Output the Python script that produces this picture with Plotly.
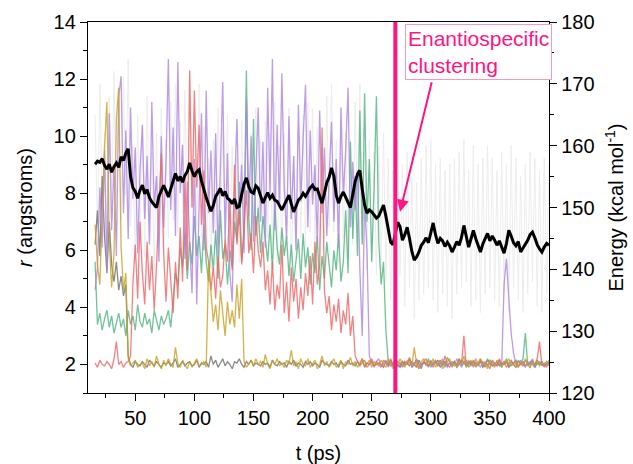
import plotly.graph_objects as go

# time base (ps), sampled every 2 ps
t = list(range(16, 401, 2))

# running-average energy (kcal/mol)
energy_avg = [
    157.0, 157.5, 157.3, 157.9, 156.8, 156.2, 157.0, 155.7, 156.6, 157.2,
    156.5, 158.2, 157.6, 158.8, 159.5, 155.0, 153.2, 152.6, 151.5, 152.8,
    153.6, 152.2, 152.9, 151.6, 150.9, 150.4, 150.0, 151.8, 152.6, 153.6,
    152.7, 151.7, 153.0, 154.2, 155.5, 154.3, 155.0, 154.1, 155.2, 155.8,
    157.2, 155.9, 155.0, 155.8, 156.1, 154.3, 152.8, 151.6, 150.5, 149.4,
    150.3, 151.8, 152.4, 153.1, 151.9, 152.6, 151.5, 151.2, 150.6, 151.4,
    150.0, 150.2, 152.1, 153.8, 154.8, 153.4, 152.5, 152.3, 153.5, 153.1,
    151.9, 150.7, 151.6, 152.4, 151.5, 152.0, 151.2, 151.0, 150.3, 149.6,
    150.4, 151.3, 152.0, 150.6, 149.3, 150.2, 151.2, 151.6, 152.3, 151.8,
    152.6, 153.2, 153.6, 152.9, 153.0, 151.9, 150.7, 152.3, 154.0, 154.9,
    156.4, 155.1, 152.0, 150.7, 151.8, 152.5, 151.6, 150.8, 150.0, 152.1,
    154.2, 155.4, 156.0, 153.0, 150.4, 149.1, 149.6, 149.3, 148.8, 148.3,
    148.6, 149.4, 150.4, 148.6, 146.7, 144.4, 144.0, 146.0, 147.6, 146.9,
    144.7, 145.6, 146.8, 145.0, 142.9, 141.5, 142.0, 142.8, 143.9, 144.4,
    145.1, 144.3, 146.2, 147.5, 145.6, 144.2, 145.0, 144.6, 143.7, 144.4,
    143.8, 142.8, 143.6, 144.5, 143.9, 145.2, 147.1, 145.3, 143.6, 144.9,
    146.3, 145.0, 143.9, 142.8, 144.1, 145.1, 145.8, 144.6, 145.4, 144.7,
    143.9, 144.6, 143.5, 142.6, 144.2, 146.3, 145.4, 144.3, 143.8, 144.5,
    142.8, 143.4, 144.1, 144.7, 145.6, 146.0, 145.1, 144.0, 143.3, 142.8,
    143.6, 144.2, 143.9,
]

# raw (unsmoothed) energy (kcal/mol)
energy_raw = [
    165, 146, 170, 150, 162, 143, 168, 149, 172, 145,
    166, 148, 171, 152, 174, 147, 160, 141, 165, 144,
    163, 142, 168, 146, 159, 140, 162, 144, 166, 143,
    161, 145, 167, 148, 170, 146, 164, 149, 169, 147,
    172, 150, 166, 147, 170, 145, 163, 141, 158, 140,
    161, 144, 166, 146, 163, 143, 165, 142, 160, 145,
    158, 141, 164, 147, 168, 145, 162, 144, 166, 146,
    161, 142, 164, 145, 162, 143, 167, 141, 160, 140,
    162, 143, 166, 139, 158, 142, 163, 145, 165, 144,
    167, 146, 166, 144, 163, 142, 160, 145, 168, 147,
    170, 146, 161, 141, 163, 145, 162, 142, 161, 144,
    167, 147, 170, 145, 160, 140, 161, 141, 159, 139,
    160, 140, 162, 138, 158, 135, 156, 137, 161, 139,
    157, 134, 159, 137, 155, 132, 154, 135, 158, 136,
    160, 137, 161, 135, 157, 133, 158, 136, 156, 134,
    157, 132, 158, 136, 159, 137, 161, 138, 156, 134,
    160, 135, 157, 133, 158, 136, 160, 137, 158, 135,
    156, 134, 159, 136, 157, 133, 160, 137, 158, 135,
    155, 133, 157, 136, 159, 138, 158, 134, 156, 133,
    158, 136, 157,
]

# distances r (angstroms)
r_red = [
    2.05, 1.9, 2.15, 2.0, 1.95, 2.1, 2.0, 1.85, 2.2, 2.8,
    2.0, 2.1, 1.9, 2.05, 2.1, 2.3, 4.8, 6.2, 4.3, 7.0,
    5.2, 4.1, 6.3, 4.6, 5.8, 3.9, 5.5, 7.4, 9.4, 5.9,
    4.2, 6.1, 5.0, 3.8, 5.6, 4.3, 6.8, 4.9, 8.6, 5.3,
    12.3, 7.5, 11.6, 8.2, 10.4, 6.9, 8.8, 6.1, 5.6, 4.6,
    5.4, 4.3, 5.8, 4.7, 5.1, 6.4, 5.6, 7.8, 5.3, 9.0,
    6.2, 7.4, 5.5, 6.8, 8.1, 5.9, 6.6, 5.2, 7.2, 6.0,
    5.4, 6.3, 4.6, 5.3, 4.1, 5.6, 3.9, 4.8, 4.3, 6.2,
    3.8, 4.9, 3.5, 5.4, 4.2, 5.0, 3.6, 4.7, 3.9, 5.2,
    4.4, 5.8, 4.1, 6.3, 4.8, 5.5, 10.3, 4.6, 3.8, 4.4,
    3.2, 4.1, 3.5, 4.3, 3.1, 3.9, 3.4, 4.5, 3.0, 3.7,
    2.3, 2.1, 1.95, 2.05, 2.15, 1.9, 2.0, 2.2, 1.95, 2.1,
    2.0, 1.9, 2.15, 2.05, 1.95, 2.2, 2.0, 1.9, 2.1, 2.05,
    1.95, 2.1, 2.0, 2.25, 1.9, 2.05, 2.15, 1.85, 2.0, 2.1,
    2.2, 1.95, 2.05, 1.9, 2.1, 2.0, 2.15, 1.95, 2.3, 2.0,
    1.9, 2.1, 2.05, 1.95, 2.2, 2.0, 3.0, 1.9, 2.1, 2.0,
    2.15, 1.9, 2.05, 2.2, 1.95, 2.1, 2.0, 1.85, 2.15, 2.05,
    1.95, 2.2, 2.0, 2.1, 1.9, 2.05, 2.15, 2.0, 1.9, 2.1,
    2.05, 1.95, 2.15, 2.0, 1.9, 2.1, 2.0, 2.2, 2.8, 1.95,
    2.05, 1.9, 2.1,
]

r_green = [
    5.6, 3.4, 3.8, 3.2, 3.6, 3.9, 3.3, 3.7, 3.1, 3.5,
    3.8, 3.3, 3.6, 3.0, 3.9, 3.4, 3.7, 3.2, 4.1, 3.5,
    3.3, 3.8, 3.4, 3.6, 3.1, 3.9, 3.5, 3.2, 3.7, 3.4,
    3.6, 3.9, 3.3, 4.4, 5.2, 4.8, 6.1, 5.4, 6.6, 5.0,
    6.3, 5.5, 7.2, 5.8, 6.5, 5.2, 6.9, 5.6, 4.9, 6.2,
    5.3, 6.7, 5.0, 7.4, 5.7, 6.2, 4.8, 6.0, 5.4, 7.0,
    6.3, 8.4, 5.6, 6.6, 12.3, 7.1, 6.0, 10.6, 6.5, 7.5,
    5.9, 7.2, 6.4, 5.6, 6.9, 5.3, 7.6, 6.1, 5.5, 6.8,
    5.8, 6.5, 5.1, 6.2, 4.9, 5.7, 6.4, 5.0, 6.6, 5.4,
    6.1, 4.8, 5.9, 5.2, 6.5, 4.6, 5.8, 5.0, 6.3, 5.5,
    4.7, 6.0, 5.3, 6.6, 4.9, 5.6, 7.4, 5.2, 9.8, 6.4,
    8.6, 5.8, 10.9, 6.2, 11.5, 7.0, 9.2, 5.6, 8.1, 11.4,
    6.3, 4.8, 5.6, 3.2, 2.1, 1.95, 2.05, 2.15, 1.9, 2.0,
    2.1, 1.95, 2.05, 2.2, 1.9, 2.0, 2.15, 2.05, 1.85, 2.1,
    2.0, 2.2, 1.9, 2.05, 2.15, 1.95, 2.0, 2.1, 1.9, 2.25,
    2.05, 1.9, 2.1, 2.0, 2.2, 1.95, 2.05, 2.15, 1.9, 2.0,
    2.1, 2.0, 1.95, 2.15, 2.05, 1.9, 2.2, 2.0, 2.1, 1.95,
    2.0, 2.15, 1.9, 2.05, 2.2, 1.95, 2.1, 2.0, 1.9, 2.15,
    2.05, 2.2, 3.1, 1.95, 2.1, 2.0, 1.9, 2.15, 2.05, 2.0,
    1.95, 2.1, 2.0,
]

r_purple = [
    4.6, 5.4, 8.2, 6.1, 9.5, 5.3, 10.8, 6.7, 9.0, 5.8,
    11.4, 12.1, 7.3, 10.2, 6.4, 11.0, 7.8, 9.6, 5.9, 8.8,
    10.4, 7.1, 9.3, 6.2, 11.2, 7.5, 8.6, 5.6, 10.0, 6.8,
    9.1, 12.7, 7.4, 10.3, 6.5, 12.6, 8.0, 9.7, 5.7, 8.4,
    6.3, 4.5, 9.2, 4.1, 7.6, 10.8, 6.0, 11.6, 7.3, 9.5,
    6.6, 10.1, 5.8, 8.9, 11.9, 6.4, 9.4, 5.2, 4.2, 8.1,
    10.6, 6.9, 9.0, 5.9, 11.3, 7.2, 10.0, 6.3, 8.5, 11.0,
    7.0, 9.8, 6.1, 11.7, 8.0, 12.7, 6.7, 10.4, 7.5, 12.2,
    8.3, 6.4, 10.7, 7.1, 9.3, 6.0, 11.1, 7.7, 9.9, 11.8,
    6.8, 10.2, 7.6, 9.0, 6.2, 10.9, 7.3, 9.6, 6.5, 8.7,
    10.5, 7.0, 9.2, 6.1, 11.0, 7.9, 9.5, 11.7, 6.8, 9.1,
    7.4, 8.8, 5.3, 3.0, 7.8, 6.0, 2.3, 2.05, 1.9, 2.1,
    2.2, 1.95, 2.05, 2.15, 1.9, 2.1, 2.0, 2.2, 1.95, 2.05,
    1.9, 2.1, 2.0, 2.15, 2.05, 1.95, 2.2, 2.0, 1.9, 2.1,
    2.05, 1.9, 2.15, 2.0, 2.1, 1.95, 2.05, 2.2, 2.0, 1.9,
    2.1, 2.0, 1.95, 2.2, 2.05, 1.9, 2.1, 2.0, 2.15, 1.95,
    2.0, 2.2, 2.05, 1.9, 2.1, 2.0, 1.95, 2.15, 2.05, 2.0,
    1.95, 2.1, 2.0, 4.8, 5.7, 4.3, 3.1, 2.4, 2.0, 1.9,
    2.15, 2.0, 1.9, 2.1, 2.05, 2.2, 1.95, 2.0, 2.1, 2.05,
    1.9, 2.05, 2.15,
]

r_gold = [
    6.9, 5.5, 4.8, 7.2, 9.6, 11.2, 6.3, 4.7, 5.9, 10.6,
    11.7, 6.1, 4.6, 5.2, 2.2, 1.95, 2.05, 2.15, 1.9, 2.0,
    2.05, 1.85, 2.2, 1.95, 2.1, 1.9, 2.3, 2.0, 1.85, 2.15,
    1.95, 2.2, 2.0, 1.9, 2.6, 2.05, 1.9, 2.15, 2.0, 1.85,
    2.1, 1.9, 2.05, 2.2, 1.95, 2.0, 2.1, 1.9, 5.6, 4.4,
    3.5, 4.1, 3.2, 4.6, 3.7, 3.0, 4.2, 3.4, 3.9, 3.3,
    4.8, 3.6, 5.0, 2.1, 1.9, 2.05, 2.15, 1.95, 2.2, 2.0,
    2.1, 1.9, 2.35, 2.0, 1.85, 2.15, 2.0, 2.2, 1.95, 2.05,
    1.9, 2.15, 2.0, 2.5, 1.95, 2.1, 1.85, 2.2, 2.0, 1.95,
    2.2, 1.9, 2.05, 2.15, 1.85, 2.0, 2.3, 1.95, 2.1, 1.9,
    2.05, 2.2, 1.9, 2.0, 2.15, 1.85, 2.1, 2.0, 2.25, 1.95,
    2.1, 1.9, 2.05, 2.2, 1.95, 2.0, 2.15, 1.9, 2.1, 2.0,
    1.95, 2.15, 2.0, 1.9, 2.2, 2.05, 1.85, 2.1, 2.0, 2.2,
    2.0, 1.9, 2.15, 2.05, 1.95, 2.6, 2.0, 1.85, 2.1, 2.2,
    1.95, 2.1, 2.0, 2.2, 1.9, 2.05, 2.15, 1.85, 2.0, 2.1,
    2.2, 1.95, 2.05, 1.9, 2.1, 2.0, 2.3, 1.9, 2.05, 2.15,
    1.9, 2.1, 2.0, 2.2, 1.95, 2.05, 1.85, 2.15, 2.0, 1.9,
    2.15, 2.0, 1.9, 2.1, 2.05, 2.2, 1.95, 2.0, 2.1, 1.9,
    2.05, 1.95, 2.2, 2.0, 1.9, 2.1, 2.0, 2.15, 1.95, 2.05,
    2.0, 2.1, 1.95,
]

r_gray = [
    6.2, 7.4, 5.8, 8.6, 6.5, 5.2, 7.0, 5.5, 4.9, 5.6,
    4.6, 5.1, 4.4, 4.8, 2.3, 2.0, 1.9, 2.1, 2.0, 1.95,
    2.1, 2.0, 1.9, 2.15, 2.05, 1.95, 2.1, 2.0, 1.9, 2.05,
    2.0, 2.1, 1.95, 2.05, 2.2, 1.9, 2.0, 2.1, 1.95, 2.05,
    2.1, 1.95, 2.0, 2.15, 1.9, 2.05, 2.0, 2.1, 1.9, 2.3,
    2.0, 2.15, 1.9, 2.05, 2.2, 1.95, 2.1, 2.0, 1.85, 2.1,
    2.05, 2.2, 2.0, 1.9, 2.1, 2.0, 2.15, 1.95, 2.05, 2.0,
    1.95, 2.1, 2.0, 2.05, 1.9, 2.15, 2.0, 1.95, 2.1, 2.0,
    2.05, 1.9, 2.1, 2.0, 2.15, 1.95, 2.05, 2.0, 1.9, 2.1,
    2.0, 2.1, 1.95, 2.05, 2.0, 1.9, 2.15, 2.05, 2.0, 1.95,
    2.1, 2.0, 2.05, 1.9, 2.1, 2.0, 1.95, 2.15, 2.0, 2.05,
    1.95, 2.1, 2.0, 2.2, 1.9, 2.05, 2.0, 2.1, 1.95, 2.0,
    2.05, 2.0, 1.9, 2.1, 2.0, 2.15, 1.95, 2.05, 2.0, 1.9,
    2.1, 2.0, 2.05, 1.95, 2.1, 2.0, 1.9, 2.15, 2.0, 2.05,
    2.0, 1.95, 2.1, 2.0, 2.05, 2.15, 1.9, 2.0, 2.1, 1.95,
    2.05, 2.0, 2.1, 1.9, 2.0, 2.15, 2.05, 1.95, 2.0, 2.1,
    1.95, 2.05, 2.0, 2.1, 1.9, 2.0, 2.15, 2.05, 1.95, 2.0,
    2.1, 1.95, 2.05, 2.0, 2.1, 1.9, 2.0, 2.05, 2.15, 1.95,
    2.0, 2.1, 1.95, 2.05, 2.0, 2.15, 1.9, 2.05, 2.0, 2.1,
    1.95, 2.0, 2.05,
]

event_t = 270
event_label = "Enantiospecific<br>clustering"
arrow_t, arrow_e = 274, 149.3

x_ticks = [50, 100, 150, 200, 250, 300, 350, 400]
r_ticks = [2, 4, 6, 8, 10, 12, 14]
e_ticks = [120, 130, 140, 150, 160, 170, 180]

FONT = "Arial, Liberation Sans, sans-serif"
PINK = "#ff1483"

fig = go.Figure()

# raw energy in the background (yaxis 'y' = energy)
fig.add_trace(go.Scatter(x=t, y=energy_raw, mode="lines", yaxis="y",
                         line=dict(color="#ededed", width=1), hoverinfo="skip"))

series = [
    (r_gray, "#6e6e6e"),
    (r_green, "#4fb37f"),
    (r_purple, "#ad84e3"),
    (r_red, "#f06464"),
    (r_gold, "#c9a020"),
]
for vals, col in series:
    fig.add_trace(go.Scatter(x=t, y=vals, mode="lines", yaxis="y2",
                             line=dict(color=col, width=1.3), opacity=0.8))

fig.add_trace(go.Scatter(x=t, y=energy_avg, mode="lines", yaxis="y3",
                         line=dict(color="black", width=3)))

axis_common = dict(showgrid=False, zeroline=False, showline=True, linecolor="black",
                   linewidth=1.3, ticks="outside", ticklen=7, tickwidth=1.3,
                   tickcolor="black", tickfont=dict(family=FONT, size=20, color="black"),
                   automargin=False)

fig.update_layout(
    width=633, height=464,
    margin=dict(l=88, r=84, t=22, b=71),
    plot_bgcolor="white", paper_bgcolor="white",
    showlegend=False,
    font=dict(family=FONT, size=20, color="black"),
    xaxis=dict(range=[10, 400], tickvals=x_ticks, mirror=True,
               title=dict(text="t (ps)", font=dict(family=FONT, size=20), standoff=18),
               minor=dict(dtick=25, tick0=0, ticks="outside", ticklen=4, tickcolor="black"),
               **axis_common),
    yaxis=dict(range=[120, 180], tickvals=e_ticks, side="right",
               title=dict(text="Energy (kcal mol<sup>-1</sup>)", font=dict(family=FONT, size=20)),
               minor=dict(dtick=5, tick0=0, ticks="outside", ticklen=4, tickcolor="black"),
               **axis_common),
    yaxis2=dict(range=[1, 14], tickvals=r_ticks, side="left", overlaying="y",
                title=dict(text="<i>r</i> (angstroms)", font=dict(family=FONT, size=20)),
                minor=dict(dtick=1, tick0=0, ticks="outside", ticklen=4, tickcolor="black"),
                **axis_common),
    yaxis3=dict(range=[120, 180], overlaying="y", visible=False),
)

fig.add_shape(type="line", x0=event_t, x1=event_t, y0=0, y1=1, xref="x", yref="paper",
              line=dict(color=PINK, width=4))

fig.add_annotation(x=0.688, y=0.995, xref="paper", yref="paper", xanchor="left", yanchor="top",
                   text=event_label, showarrow=False, align="left",
                   font=dict(family=FONT, size=21, color=PINK),
                   bordercolor="#f49ac0", borderwidth=1, borderpad=2, bgcolor="white")

fig.add_annotation(x=arrow_t, y=arrow_e, xref="x", yref="y3", text="", showarrow=True,
                   ax=32, ay=-131, arrowhead=2, arrowsize=1.2, arrowwidth=2, arrowcolor=PINK)

fig.write_html("out.html")
